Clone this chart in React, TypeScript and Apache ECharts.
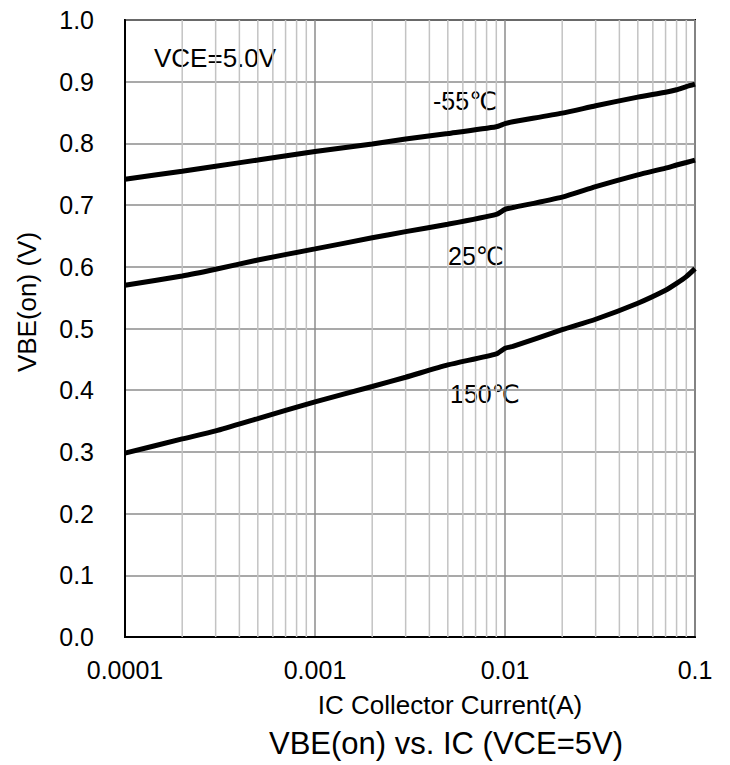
import React, { useEffect, useRef } from "react";
import * as echarts from "echarts";

const IC = [1e-4, 2e-4, 3e-4, 5e-4, 1e-3, 2e-3, 3e-3, 5e-3, 9e-3, 1e-2, 1.1e-2, 2e-2, 3e-2, 5e-2, 7e-2, 8e-2, 9e-2, 1e-1];
const VBE_M55 = [0.742, 0.755, 0.763, 0.773, 0.787, 0.799, 0.807, 0.816, 0.827, 0.832, 0.835, 0.849, 0.861, 0.875, 0.883, 0.887, 0.892, 0.896];
const VBE_25 = [0.570, 0.585, 0.596, 0.611, 0.629, 0.647, 0.657, 0.669, 0.685, 0.693, 0.696, 0.713, 0.730, 0.749, 0.760, 0.765, 0.769, 0.773];
const VBE_150 = [0.298, 0.321, 0.334, 0.354, 0.381, 0.406, 0.421, 0.441, 0.459, 0.468, 0.471, 0.498, 0.515, 0.541, 0.562, 0.573, 0.584, 0.597];
const SERIES_NAMES = ["-55℃", "25℃", "150℃"];
const X_TICK_LABELS = ["0.0001", "0.001", "0.01", "0.1"];
const X_DECADES = [1e-4, 1e-3, 1e-2];
const MINOR_MULTIPLIERS = [2, 3, 4, 5, 6, 7, 8, 9];
const Y_MIN = 0;
const Y_MAX = 1;

const FONT = "'Liberation Sans', Arial, 'DejaVu Sans', sans-serif";

export default function App() {
  const ref = useRef<HTMLDivElement>(null);
  useEffect(() => {
    if (!ref.current) return;
    const chart = echarts.init(ref.current, undefined, { renderer: "svg" });
    const minorSeries: any[] = [];
    X_DECADES.forEach((d) =>
      MINOR_MULTIPLIERS.forEach((m) => {
        const x = d * m;
        minorSeries.push({
          type: "line",
          name: "grid-" + x,
          data: [[x, Y_MIN], [x, Y_MAX]],
          showSymbol: false,
          silent: true,
          lineStyle: { color: "#c3c3c3", width: 1.5 },
          z: 1,
          clip: false,
        });
      })
    );
    const mk = (vals: number[]) => IC.map((x, i) => [x, vals[i]]);
    const lineStyle = { color: "#000", width: 5 };
    const option: any = {
      animation: false,
      backgroundColor: "#fff",
      textStyle: { fontFamily: FONT },
      grid: {
        left: 125, top: 20, width: 570, height: 617,
        show: true, borderColor: "#000", borderWidth: 2, backgroundColor: "transparent",
      },
      xAxis: {
        type: "log", logBase: 10, min: 1e-4, max: 0.1,
        axisLine: { show: true, lineStyle: { color: "#000", width: 2 } },
        axisTick: { show: false },
        splitLine: { show: true, lineStyle: { color: "#8c8c8c", width: 1.5 } },
        axisLabel: {
          color: "#000", fontSize: 25, fontFamily: FONT, margin: 20,
          formatter: (v: number) => X_TICK_LABELS[Math.round(Math.log10(v)) + 4] ?? "",
        },
      },
      yAxis: {
        type: "value", min: Y_MIN, max: Y_MAX, interval: 0.1,
        axisLine: { show: true, lineStyle: { color: "#000", width: 2 } },
        axisTick: { show: false },
        splitLine: { show: true, lineStyle: { color: "#8c8c8c", width: 1.5 } },
        axisLabel: {
          color: "#000", fontSize: 25, fontFamily: FONT, margin: 31,
          formatter: (v: number) => v.toFixed(1),
        },
      },
      series: [
        ...minorSeries,
        { type: "line", name: SERIES_NAMES[0], data: mk(VBE_M55), showSymbol: false, smooth: 0.2, lineStyle, z: 5 },
        { type: "line", name: SERIES_NAMES[1], data: mk(VBE_25), showSymbol: false, smooth: 0.2, lineStyle, z: 5 },
        { type: "line", name: SERIES_NAMES[2], data: mk(VBE_150), showSymbol: false, smooth: 0.2, lineStyle, z: 5 },
      ],
      graphic: [
        { type: "text", x: 154, y: 58, style: { text: "VCE=5.0V", fill: "#000", font: `26px ${FONT}`, textVerticalAlign: "middle", verticalAlign: "middle" } },
        { type: "text", x: 433, y: 101, style: { text: SERIES_NAMES[0], fill: "#000", font: `25px ${FONT}`, textVerticalAlign: "middle", verticalAlign: "middle" } },
        { type: "text", x: 448, y: 256, style: { text: SERIES_NAMES[1], fill: "#000", font: `25px ${FONT}`, textVerticalAlign: "middle", verticalAlign: "middle" } },
        { type: "text", x: 450, y: 394, style: { text: SERIES_NAMES[2], fill: "#000", font: `25px ${FONT}`, textVerticalAlign: "middle", verticalAlign: "middle" } },
        { type: "text", x: 450, y: 705, style: { text: "IC Collector Current(A)", fill: "#000", font: `26px ${FONT}`, textAlign: "center", align: "center", textVerticalAlign: "middle", verticalAlign: "middle" } },
        { type: "text", x: 446, y: 743, style: { text: "VBE(on) vs. IC (VCE=5V)", fill: "#000", font: `31px ${FONT}`, textAlign: "center", align: "center", textVerticalAlign: "middle", verticalAlign: "middle" } },
        { type: "text", x: 27, y: 302, rotation: Math.PI / 2, style: { text: "VBE(on) (V)", fill: "#000", font: `26px ${FONT}`, textAlign: "center", align: "center", textVerticalAlign: "middle", verticalAlign: "middle" } },
      ],
    };
    chart.setOption(option);
    return () => chart.dispose();
  }, []);
  return <div ref={ref} style={{ position: "fixed", left: 0, top: 0, width: 730, height: 765 }} />;
}
